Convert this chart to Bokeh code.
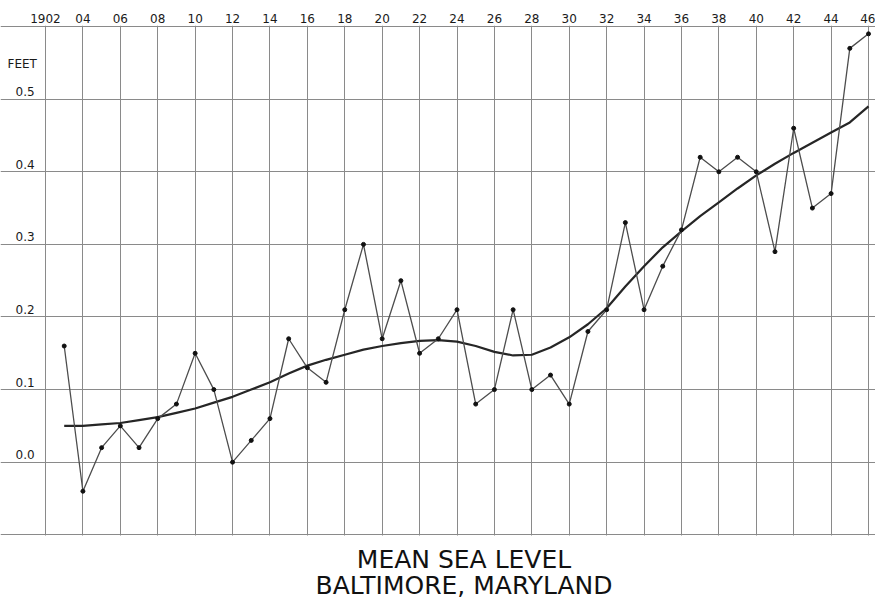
from bokeh.plotting import figure
from bokeh.models import FixedTicker, ColumnDataSource, Range1d
from bokeh.core.properties import value
from bokeh.embed import file_html
from bokeh.resources import INLINE

# ---- data ----
years = list(range(1903, 1947))
sea_level = [0.16, -0.04, 0.02, 0.05, 0.02, 0.06, 0.08, 0.15, 0.10, 0.00,
             0.03, 0.06, 0.17, 0.13, 0.11, 0.21, 0.30, 0.17, 0.25, 0.15,
             0.17, 0.21, 0.08, 0.10, 0.21, 0.10, 0.12, 0.08, 0.18, 0.21,
             0.33, 0.21, 0.27, 0.32, 0.42, 0.40, 0.42, 0.40, 0.29, 0.46,
             0.35, 0.37, 0.57, 0.59]
trend = [0.050, 0.050, 0.052, 0.054, 0.058, 0.062, 0.068, 0.074, 0.082, 0.090,
         0.100, 0.110, 0.122, 0.133, 0.141, 0.148, 0.155, 0.160, 0.164, 0.167,
         0.168, 0.166, 0.160, 0.152, 0.147, 0.148, 0.158, 0.172, 0.190, 0.212,
         0.242, 0.270, 0.296, 0.318, 0.339, 0.358, 0.377, 0.395, 0.411, 0.426,
         0.440, 0.454, 0.468, 0.490]

tick_years = [1902, 1904, 1906, 1908, 1910, 1912, 1914, 1916, 1918, 1920, 1922, 1924,
              1926, 1928, 1930, 1932, 1934, 1936, 1938, 1940, 1942, 1944, 1946]
tick_year_labels = ["1902", "04", "06", "08", "10", "12", "14", "16", "18", "20", "22", "24",
                    "26", "28", "30", "32", "34", "36", "38", "40", "42", "44", "46"]
grid_feet = [-0.1, 0.0, 0.1, 0.2, 0.3, 0.4, 0.5, 0.6]
label_feet = [0.0, 0.1, 0.2, 0.3, 0.4, 0.5]
label_feet_text = ["0.0", "0.1", "0.2", "0.3", "0.4", "0.5"]
unit_label = "FEET"
title_lines = ["MEAN SEA LEVEL", "BALTIMORE, MARYLAND"]

FONT = "DejaVu Sans"
GRID = "#8a8a8a"
INK = "#1a1a1a"

x_start, x_end = 1899.594, 1946.374
y_start, y_end = -0.1919, 0.6015
grid_low, grid_high = grid_feet[0], grid_feet[-1]

p = figure(width=875, height=601, output_backend="svg", toolbar_location=None,
           x_range=Range1d(x_start, x_end), y_range=Range1d(y_start, y_end),
           x_axis_location="above", y_axis_location=None)
p.min_border_left = 0
p.min_border_right = 0
p.min_border_top = 25
p.min_border_bottom = 0
p.outline_line_color = None
p.background_fill_color = "white"
p.border_fill_color = "white"

# axis (years on top)
ax = p.xaxis[0]
ax.ticker = FixedTicker(ticks=tick_years)
ax.major_label_overrides = {y: l for y, l in zip(tick_years, tick_year_labels)}
ax.axis_line_color = None
ax.major_tick_line_color = None
ax.minor_tick_line_color = None
ax.major_tick_out = 0
ax.major_tick_in = 0
ax.major_label_standoff = 3
ax.major_label_text_font = FONT
ax.major_label_text_font_size = "12px"
ax.major_label_text_color = INK

# grids (vertical lines only between -0.1 and 0.6)
p.xgrid.ticker = FixedTicker(ticks=tick_years)
p.xgrid.cross_bounds = (grid_low - 0.0015, grid_high + 0.0015)
p.ygrid.ticker = FixedTicker(ticks=grid_feet)
for g in p.grid:
    g.grid_line_color = GRID
    g.grid_line_width = 1
    g.grid_line_alpha = 1.0

# y labels inside the chart area
ysrc = ColumnDataSource(dict(x=[x_start] * len(label_feet), y=label_feet, t=label_feet_text))
p.text(x="x", y="y", text="t", source=ysrc, x_offset=15, y_offset=-7.5,
       text_font=value(FONT), text_font_size="12px", text_color=INK,
       text_baseline="middle", text_align="left")
p.text(x=[x_start], y=[0.5], text=[unit_label], x_offset=7, y_offset=-35,
       text_font=value(FONT), text_font_size="12px", text_color=INK,
       text_baseline="middle", text_align="left")

# data
p.line(years, trend, line_color="#262626", line_width=2.2)
p.line(years, sea_level, line_color="#4d4d4d", line_width=1.3)
p.scatter(years, sea_level, size=4, fill_color="#111111", line_color="#111111")

# title lines below the chart
x_mid = (x_start + x_end) / 2
p.text(x=[x_mid], y=[grid_low], text=[title_lines[0]],
       x_offset=26, y_offset=25,
       text_font=value(FONT), text_font_size="25px", text_color="#111111",
       text_baseline="middle", text_align="center")
p.text(x=[x_mid], y=[grid_low], text=[title_lines[1]],
       x_offset=26, y_offset=51,
       text_font=value(FONT), text_font_size="25px", text_color="#111111",
       text_baseline="middle", text_align="center")

open("out.html", "w").write(file_html(p, INLINE))
